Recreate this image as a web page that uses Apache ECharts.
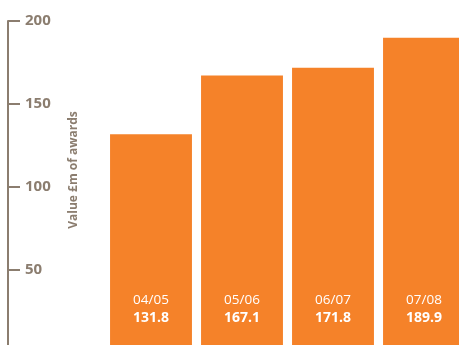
<!DOCTYPE html>
<html><head><meta charset="utf-8">
<script src="https://cdn.jsdelivr.net/npm/echarts@6/dist/echarts.min.js"></script>
<style>html,body{margin:0;padding:0;background:#fff}#c{width:459px;height:345px}</style>
</head><body><div id="c"></div>
<script>
var categories = ['04/05', '05/06', '06/07', '07/08'];
var values = [131.8, 167.1, 171.8, 189.9];
var yTicks = [50, 100, 150, 200];
var axisTitle = 'Value £m of awards';
var axisColor = '#8B7D6F';
var chart = echarts.init(document.getElementById('c'));
chart.setOption({
  animation: false,
  grid: { left: 105.5, width: 364, top: 21, height: 332, outerBoundsMode: 'none', containLabel: false },
  graphic: [{
    type: 'text', x: 74, y: 170, rotation: Math.PI / 2,
    style: { text: axisTitle, fill: axisColor, fontFamily: 'Open Sans', fontWeight: 'bold', fontSize: 12, align: 'center', verticalAlign: 'middle' }
  }],
  xAxis: { type: 'category', data: categories, axisLine: { show: false }, axisTick: { show: false }, axisLabel: { show: false } },
  yAxis: {
    type: 'value', min: 0, max: 200, interval: 50, offset: 97.5,
    axisLine: { show: true, lineStyle: { color: axisColor, width: 2 } },
    axisTick: { show: true, inside: true, length: 12, lineStyle: { color: axisColor, width: 2 } },
    splitLine: { show: false },
    axisLabel: { inside: true, margin: 17, color: axisColor, fontFamily: 'Open Sans', fontWeight: 'bold', fontSize: 15,
      formatter: function (v) { return yTicks.indexOf(v) >= 0 ? String(v) : ''; } }
  },
  series: [{
    type: 'bar', data: values, barCategoryGap: '10%',
    itemStyle: { color: '#F58229' },
    label: {
      show: true, position: 'insideBottom', distance: 26,
      formatter: function (p) { return '{a|' + p.name + '}\n{b|' + p.value.toFixed(1) + '}'; },
      rich: {
        a: { color: '#fff', fontFamily: 'Open Sans', fontSize: 13.5, lineHeight: 18 },
        b: { color: '#fff', fontFamily: 'Open Sans', fontSize: 14, fontWeight: 'bold', lineHeight: 18 }
      }
    }
  }]
});
</script></body></html>
